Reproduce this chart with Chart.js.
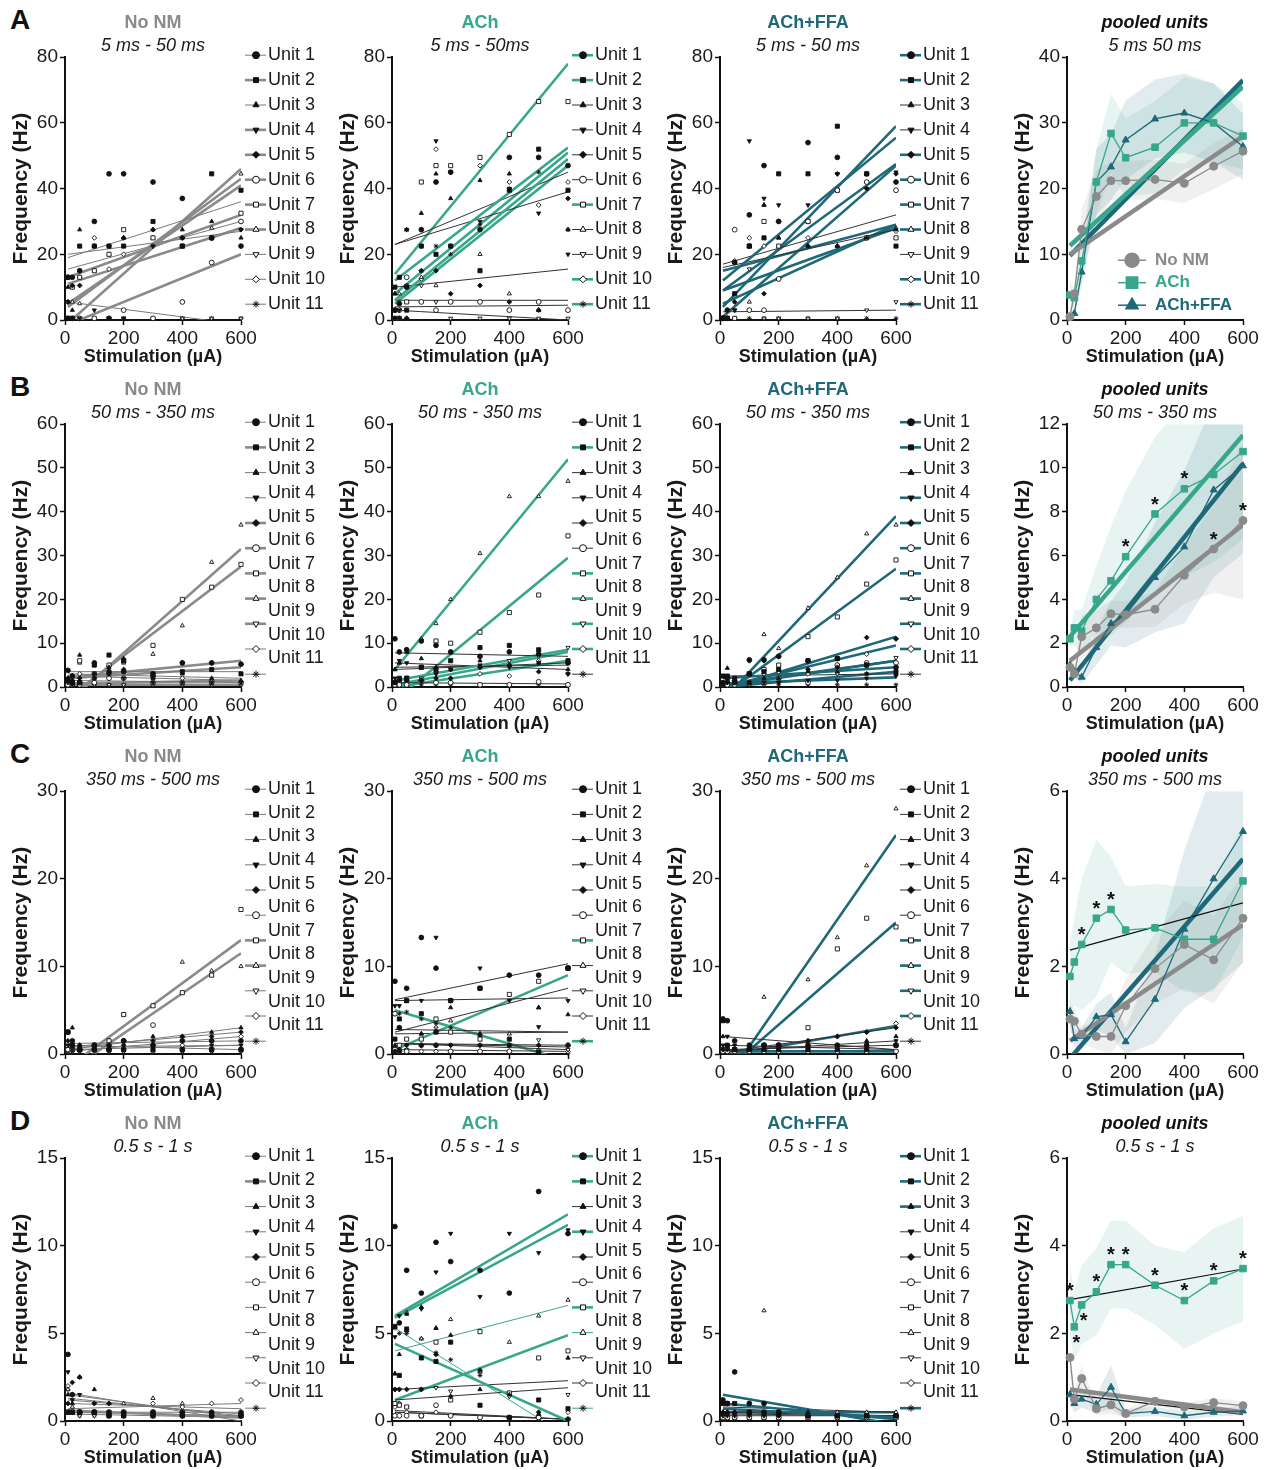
<!DOCTYPE html>
<html>
<head>
<meta charset="utf-8">
<script src="https://cdn.jsdelivr.net/npm/chart.js@4.4.1/dist/chart.umd.min.js"></script>
<style>
  body { margin: 0; background: #fff; width: 1268px; height: 1470px; position: relative; overflow: hidden;
         font-family: "Liberation Sans", Arial, sans-serif; }
  canvas { position: absolute; }
  .letter { position: absolute; font-weight: bold; font-size: 28px; color: #111; }
</style>
</head>
<body>
<div class="letter" style="left:10px;top:4px">A</div>
<div class="letter" style="left:10px;top:371px">B</div>
<div class="letter" style="left:10px;top:738px">C</div>
<div class="letter" style="left:10px;top:1105px">D</div>
<script>
// stimulation steps (µA) shared by every panel
const stimulation = [10, 25, 50, 100, 150, 200, 300, 400, 500, 600];
const xTicks = [0, 200, 400, 600];
const unitNames = ["Unit 1", "Unit 2", "Unit 3", "Unit 4", "Unit 5", "Unit 6",
  "Unit 7", "Unit 8", "Unit 9", "Unit 10", "Unit 11"];
const conditions = ["No NM", "ACh", "ACh+FFA"];
const windows = [
  ["5 ms - 50 ms", "5 ms - 50ms", "5 ms - 50 ms", "5 ms 50 ms"],
  ["50 ms - 350 ms", "50 ms - 350 ms", "50 ms - 350 ms", "50 ms - 350 ms"],
  ["350 ms - 500 ms", "350 ms - 500 ms", "350 ms - 500 ms", "350 ms - 500 ms"],
  ["0.5 s - 1 s", "0.5 s - 1 s", "0.5 s - 1 s", "0.5 s - 1 s"]
];
const unitYMax = [80, 60, 30, 15];
const unitYStep = [20, 10, 10, 5];
const poolYMax = [40, 12, 6, 6];
const poolYStep = [10, 2, 2, 2];

// per-unit frequencies (Hz); fits = [value at 10 µA, value at 600 µA, kind]
// kind: 1 thin neutral, 2 thick coloured, 3 thin coloured
const unitsA1 = [
  [13, 13, 15, 30, 44.5, 44.5, 42, 37, 25, 22.5],
  [0.5, 0.5, 22.5, 22.5, 22.5, 22.5, 30, 22.5, 44.5, 39.5],
  [10, 3, 27.5, 22.5, 0.5, 25, 27.5, 27.5, 30, 25],
  [0.5, 0.5, 0.5, 3, 0.5, 0.5, 22.5, 25, 25, 27.5],
  [5.5, 10.5, 10.5, 22.5, 22.5, 25, 27.5, 25, 25, 27.5],
  [0.5, 0.5, 0.5, 0.5, 0.5, 3, 0.5, 5.5, 17.5, 30],
  [13, 10, 13, 15, 20, 27.5, 25, 22.5, 25, 32.5],
  [5.5, 5.5, 5, 15, 20, 25, 25, 25, 28, 44.5],
  [5.5, 0.5, 0.5, 0.5, 0.5, 0.5, 0.5, 0.5, 0.5, 0.5],
  [13, 10, 13, 25, 15.5, 20, 22.5, 25, 25, 30],
  [0.5, 0.5, 0.5, 0.5, 0.5, 0.5, 0.5, 0.5, 0.5, 0.5]
];
const fitsA1 = [[19, 36, 1], [5, 41, 2], [20, 27, 1], [-1, 46, 2], [11, 28, 2], [-1.4, 20, 2],
  [13, 32, 2], [4, 43, 2], [5.5, -1.4, 1], [15.5, 30, 1], [null, null, 1]];

const unitsA2 = [
  [3, 5, 10, 27.5, 42, 45, 27.5, 49.5, 49.5, 47],
  [10, 13, 3, 22.5, 20, 22.5, 15, 39.5, 52, 39.5],
  [8, 5, 27.5, 32.5, 44.5, 37, 42.5, 44.5, 3, 27.5],
  [0.5, 3, 27.5, 22.5, 54.5, 45, 30, 40, 32.5, 20],
  [0.5, 0.5, 0.5, 15, 15, 8, 10.5, 5.5, 3, 37],
  [3, 3, 13, 5.5, 3, 5.5, 5.5, 3, 5.5, 3],
  [0.5, 0.5, 5.5, 42, 47, 47, 49.5, 56.5, 66.5, 66.5],
  [8, 8, 10.5, 13, 10.5, 5.5, 20, 8, 3, 3],
  [3, 3, 10.5, 10.5, 5.5, 0.5, 0.5, 0.5, 0.5, 0.5],
  [0.5, 0.5, 0.5, 12.5, 52, 22.5, 47, 42, 35, 42],
  [0.5, 0.5, 27.5, 15, 22.5, 20, 29, 40, 45, 27.5]
];
const fitsA2 = [[12, 52.5, 2], [6, 49, 2], [23, 45, 1], [23, 39, 1], [4, 4.5, 1], [6, 6, 1],
  [14, 78, 2], [10, 15.5, 1], [3, 0, 1], [8, 51, 2], [5, 47, 2]];

const unitsA3 = [
  [0.5, 0.5, 17.5, 32, 47, 30, 54, 49.5, 44.5, 42],
  [0.5, 0.5, 8, 22.5, 25, 44.5, 44.5, 59, 44.5, 22.5],
  [0.5, 3, 17.5, 22.5, 35, 25, 22.5, 22.5, 25, 27.5],
  [0.5, 3, 3, 54.5, 37, 35, 35, 44.5, 40, 45],
  [0.5, 0.5, 5.5, 22.5, 8, 30, 22.5, 44.5, 40, 44.5],
  [0.5, 3, 27.5, 3, 3, 12.5, 30, 39.5, 42, 39.5],
  [0.5, 0.5, 0.5, 22.5, 30, 22.5, 30, 39.5, 25, 25],
  [0.5, 0.5, 0.5, 5.5, 35, 25, 22.5, 22.5, 25, 28],
  [0.5, 0.5, 3, 15.5, 0.5, 0.5, 0.5, 0.5, 3, 5.5],
  [0.5, 3, 18, 25, 22.5, 12.5, 25, 22.5, 25, 27],
  [0.5, 0.5, 0.5, 0.5, 0.5, 0.5, 0.5, 0.5, 0.5, 0.5]
];
const fitsA3 = [[12, 55.5, 2], [4, 59, 2], [16, 27.5, 1], [17, 32, 1], [9, 47.5, 2], [1, 47, 2],
  [5, 29, 2], [9, 28, 2], [2.5, 3, 1], [15, 29, 2], [null, null, 2]];

const unitsB1 = [
  [3.8, 2.5, 1, 5.5, 3.5, 3.5, 2.5, 5.5, 5.5, 5.2],
  [1.5, 1, 1, 5, 7.3, 6, 3, 3.5, 4, 3],
  [2, 2.5, 7.3, 5, 4.5, 6.5, 2, 3, 2, 1.5],
  [1, 0.5, 1, 2, 3, 2, 1, 1, 1, 1],
  [2, 1.5, 2, 3, 3, 4, 3, 5.5, 5.5, 5.2],
  [0.5, 0.5, 0.5, 1, 2, 2, 1, 1, 1, 1],
  [1, 1, 6, 3, 5, 6, 9.5, 20, 22.8, 28],
  [1, 1, 5.5, 2, 3, 5.5, 7.5, 14, 28.5, 37],
  [0.5, 0.5, 0.5, 0.5, 0.5, 0.5, 0.5, 0.5, 0.5, 0.5],
  [1, 1, 3, 2, 4.8, 2, 2, 2, 1.5, 1.2],
  [0.5, 0.5, 0.5, 0.5, 0.5, 0.5, 0.5, 0.5, 0.5, 0.5]
];
const fitsB1 = [[3.5, 3.5, 1], [2, 4.5, 2], [3, 2, 1], [1.5, 1, 1], [2.2, 6, 2], [0.8, 1.5, 2],
  [-2.5, 27.5, 2], [-3.5, 31.5, 2], [0.5, 0.5, 2], [2.5, 1.5, 1], [null, null, 1]];

const unitsB2 = [
  [11, 8, 8.5, 10.5, 9.5, 8, 7, 8, 7.5, 5.5],
  [1, 2, 2, 4.5, 4, 6, 9, 9.5, 8.5, 6],
  [4, 5.5, 8, 6.5, 4.5, 4, 6, 5, 5.5, 4],
  [2, 6, 5.5, 4.5, 3, 4, 5, 4.5, 5.5, 3],
  [1, 1.5, 1.5, 1.5, 2, 2, 4.5, 5, 3.5, 3],
  [0.5, 0.5, 0.5, 1.5, 1, 1, 0.5, 0.5, 1.2, 0.5],
  [0.5, 1, 2, 4.5, 10.5, 10, 12.5, 17, 21, 34.5],
  [4, 5.5, 8.5, 11, 14.5, 20, 30.5, 43.5, 43.5, 47],
  [1, 1, 1, 2, 3, 4, 4.5, 6, 7, 9],
  [1, 1, 1, 1.5, 3.5, 1, 3, 2.5, 6, 5.5],
  [0.5, 0.5, 0.5, 0.5, 0.5, 0.5, 0.5, 0.5, 0.5, 0.5]
];
const fitsB2 = [[7.8, 7, 1], [1.5, 8.5, 2], [5.5, 4, 1], [4.5, 5, 1], [4, 5.5, 1], [1, 0.7, 1],
  [-3, 29.5, 2], [4, 52, 2], [0.5, 8, 2], [0, 6, 2], [null, null, 1]];

const unitsB3 = [
  [1, 2, 1, 6.2, 6.2, 7, 6, 6.5, 5, 4.5],
  [2.5, 2.5, 2, 3, 3.5, 4, 6, 6.5, 5, 3.5],
  [1, 4.3, 1.5, 1, 2, 2, 3.5, 3.5, 3, 3],
  [0.5, 1, 1, 1, 1, 1, 1.5, 1.5, 2, 2.5],
  [0.5, 1, 1.5, 6, 6, 7, 4, 4.5, 11.3, 11],
  [0.5, 0.5, 0.5, 1, 1, 2, 1, 5, 5.5, 5.5],
  [0.5, 1, 1, 3, 4, 5, 11.5, 16, 23.5, 29],
  [1, 1, 1.5, 3, 12, 8.8, 18, 25, 35, 37],
  [0.5, 0.5, 0.5, 0.5, 0.5, 1, 1, 3, 3, 6.7],
  [0.5, 0.5, 0.5, 1, 3, 3.5, 3, 5, 7.5, 11],
  [0.5, 0.5, 0.5, 0.5, 0.5, 0.5, 0.5, 0.5, 0.5, 0.5]
];
const fitsB3 = [[0.5, 6, 2], [2, 4.5, 2], [2.5, 3, 1], [0.8, 2.2, 2], [-0.5, 11.5, 2], [0.2, 6, 2],
  [-2, 27, 2], [-3, 39, 2], [0, 3.5, 2], [0, 9.5, 2], [null, null, 1]];

const unitsC1 = [
  [2.5, 1.5, 0.5, 1, 0.5, 1.5, 1, 1.5, 1.5, 1.5],
  [2.5, 1, 0.5, 0.5, 0.5, 0.5, 0.5, 0.5, 0.5, 0.5],
  [2.5, 3, 1, 0.5, 1, 1.5, 2, 2, 2.5, 3],
  [1, 0.5, 0.5, 0.5, 0.5, 0.5, 1, 0.5, 1, 1],
  [1.5, 1, 1, 1, 1, 1, 1.5, 2, 2, 2.5],
  [0.5, 0.5, 0.5, 0.5, 1, 1.5, 3.3, 0.5, 0.5, 0.5],
  [0.5, 0.5, 0.5, 1, 1.5, 4.5, 5.5, 7, 9, 16.5],
  [0.5, 0.5, 0.5, 0.5, 1.5, 4.5, 5.5, 10.5, 9.5, 10],
  [0.3, 0.3, 0.3, 0.3, 0.3, 0.3, 0.3, 0.3, 0.3, 0.3],
  [0.5, 0.5, 0.5, 0.5, 0.5, 0.5, 1, 1, 1.5, 2],
  [0.3, 0.3, 0.3, 0.3, 0.3, 0.3, 0.3, 0.3, 0.3, 0.3]
];
const fitsC1 = [[1.2, 1.5, 1], [1, 0.5, 1], [0.5, 3, 1], [0.5, 1, 1], [0.8, 2.5, 1], [0.8, 1, 1],
  [-1.5, 13, 2], [-2, 11.5, 2], [null, null, 1], [0.3, 2, 1], [null, null, 1]];

const unitsC2 = [
  [8.3, 3, 7.5, 13.3, 9.8, 6.1, 7.5, 9, 9, 9.8],
  [1.7, 4, 6.1, 4.6, 2.5, 6.1, 7.5, 1.7, 0.2, 9.8],
  [1, 0.5, 6, 2.3, 2.6, 5.3, 2.3, 1, 5.3, 4.5],
  [5.5, 5.5, 6.1, 6.1, 13.3, 6.1, 9.8, 6.1, 3.1, 6.1],
  [0.3, 0.3, 1, 1, 1, 1, 1, 1, 1, 1],
  [4.6, 0.3, 0.3, 1, 1, 0.3, 0.3, 0.3, 0.3, 1],
  [0.5, 1, 1.7, 1.7, 4, 2.5, 1.7, 6.8, 8.3, 9.8],
  [0.5, 0.5, 0.5, 2.3, 3.1, 3.8, 2.3, 2.3, 5.3, 1],
  [0.5, 0.5, 0.5, 1, 1, 1, 1, 1, 1.6, 0.5],
  [4.6, 0.3, 0.3, 0.3, 0.3, 0.3, 0.3, 0.3, 0.3, 0.3],
  [4.6, 4.6, 4.8, 4, 3.5, 3, 2, 1, 0.3, 0.1]
];
const fitsC2 = [[6.2, 10.3, 1], [2.8, 2.5, 1], [2.5, 7.5, 1], [6.1, 6.4, 1], [1.2, 1, 1], [1.2, 0.5, 1],
  [0.5, 9, 2], [2.3, 2.5, 1], [1.2, 0.8, 1], [0.5, 0.3, 1], [5, -0.8, 2]];

const unitsC3 = [
  [4, 3.8, 1.5, 1, 1, 1, 1, 1, 1, 1],
  [3.8, 1, 0.5, 0.5, 0.5, 0.5, 0.5, 0.5, 0.5, 1],
  [2, 1, 0.5, 0.5, 0.5, 1, 1, 1, 1.5, 2],
  [1, 2, 1, 0.5, 0.5, 0.5, 0.5, 1, 1, 1.5],
  [0.5, 0.5, 0.5, 0.5, 1, 1, 1.5, 2, 2.5, 3],
  [0.3, 0.3, 0.3, 0.3, 0.3, 0.3, 0.3, 0.3, 0.3, 0.3],
  [0.5, 0.5, 0.5, 0.5, 1, 1, 3, 12, 15.5, 14.5],
  [0.5, 0.5, 0.5, 0.5, 6.5, 1, 8.5, 13.3, 21.5, 28],
  [0.3, 0.3, 0.3, 0.3, 0.3, 0.3, 0.3, 0.3, 0.3, 0.3],
  [0.5, 0.5, 0.5, 0.5, 1, 1, 1.5, 2, 2.5, 3.5],
  [0.3, 0.3, 0.3, 0.3, 0.3, 0.3, 0.3, 0.3, 0.3, 0.3]
];
const fitsC3 = [[2, 0.5, 1], [1, 0.5, 1], [0.3, 1.5, 1], [0.5, 1, 1], [0.2, 3, 1], [null, null, 1],
  [-2.2, 15, 2], [-3.5, 25, 2], [0.3, 0.3, 2], [-0.2, 3.2, 2], [null, null, 1]];

const unitsD1 = [
  [3.8, 1.5, 0.5, 0.5, 0.3, 0.3, 0.3, 0.3, 0.3, 0.3],
  [0.5, 0.5, 0.5, 0.5, 0.3, 0.3, 0.3, 0.3, 0.3, 0.3],
  [1.5, 1, 2.5, 1.8, 0.5, 0.5, 0.5, 0.5, 0.3, 0.3],
  [2.8, 1.2, 1.5, 1, 0.5, 0.5, 0.5, 0.3, 0.5, 0.3],
  [1, 2.2, 2.5, 1, 1, 0.5, 0.5, 0.5, 0.5, 0.5],
  [0.5, 0.5, 0.5, 0.5, 0.5, 0.5, 0.5, 0.5, 0.5, 0.5],
  [0.5, 0.5, 0.5, 0.5, 0.5, 0.5, 0.5, 0.5, 0.3, 0.3],
  [1.8, 0.8, 0.5, 0.5, 1, 1, 1.3, 1, 0.5, 0.5],
  [0.5, 0.5, 0.3, 0.3, 0.3, 0.3, 0.3, 0.3, 0.3, 0.3],
  [2, 1.5, 0.5, 0.5, 0.5, 0.5, 1, 0.8, 1, 1.2],
  [1.8, 0.5, 0.3, 0.3, 0.3, 0.3, 0.3, 0.3, 0.3, 0.3]
];
const fitsD1 = [[1.6, 0, 1], [0.6, 0.2, 2], [1.3, 0.3, 1], [1.5, 0.2, 1], [1.2, 0.4, 1], [0.5, 0.5, 1],
  [0.5, 0.3, 1], [1, 0.7, 1], [0.4, 0.2, 1], [0.7, 1, 1], [null, null, 1]];

const unitsD2 = [
  [11.1, 5.6, 8.6, 7.3, 10.2, 9.1, 8.6, 7.3, 13.1, 10.7],
  [5.4, 2.6, 5.2, 3.6, 3.4, 4.5, 0.9, 0.2, 1.2, 0.7],
  [2.7, 3.8, 6.1, 6.5, 5.3, 4.9, 1.8, 1.5, 0.4, 3.6],
  [4.8, 6, 5.3, 6.4, 8.5, 10.7, 7.1, 10.7, 9.6, 10.9],
  [1.8, 1.8, 1.8, 1.8, 3.8, 1.4, 2.9, 0.2, 0.5, 0.1],
  [0.3, 0.3, 0.3, 0.3, 0.9, 0.3, 0.2, 0.2, 0.2, 0.1],
  [1, 0.9, 0.8, 0.3, 4.5, 1.2, 5.1, 1.6, 3.6, 4],
  [2.7, 1, 6.2, 4.7, 5.3, 5.8, 2.8, 4.5, 6, 6.9],
  [1.8, 1.8, 0.8, 1.8, 1.9, 1.7, 0.1, 1.4, 0.2, 1.5],
  [0.8, 1, 0.5, 0.3, 0.5, 0.3, 2.8, 0.2, 0.3, 0.5],
  [5.3, 5, 5, 4.7, 3.9, 3.5, 2.6, 1.6, 0.2, 0.1]
];
const fitsD2 = [[6, 11.8, 2], [4.4, 0, 2], [1.8, 2.3, 1], [5.9, 11.2, 2], [1.2, 1.9, 1], [0.5, 0.1, 1],
  [1.2, 4.9, 2], [4, 6.6, 3], [0.6, 0.1, 1], [0.5, 0.1, 1], [5.3, -0.9, 3]];

const unitsD3 = [
  [1.2, 1, 2.8, 1, 1, 0.5, 0.3, 0.3, 0.3, 0.3],
  [1, 1, 1, 0.5, 0.5, 0.5, 0.3, 0.3, 0.3, 0.3],
  [0.5, 0.5, 0.5, 0.5, 0.5, 0.5, 0.5, 0.3, 0.3, 0.3],
  [0.3, 0.3, 0.3, 0.3, 0.3, 0.3, 0.3, 0.3, 0.3, 0.3],
  [0.5, 0.5, 0.5, 0.5, 0.5, 0.3, 0.3, 0.3, 0.3, 0.3],
  [0.2, 0.2, 0.2, 0.2, 0.2, 0.2, 0.2, 0.2, 0.2, 0.2],
  [0.2, 0.2, 0.2, 0.2, 0.2, 0.2, 0.2, 0.2, 0.2, 0.2],
  [1, 0.5, 0.5, 0.5, 6.3, 0.5, 0.5, 0.5, 0.5, 0.5],
  [0.2, 0.2, 0.2, 0.2, 0.2, 0.2, 0.2, 0.2, 0.2, 0.2],
  [0.3, 0.3, 0.3, 0.3, 0.3, 0.3, 0.3, 0.3, 0.3, 0.3],
  [0.2, 0.2, 0.2, 0.2, 0.2, 0.2, 0.2, 0.2, 0.2, 0.2]
];
const fitsD3 = [[1.5, -0.2, 2], [1, 0.1, 2], [0.7, 0.2, 2], [0.3, 0.3, 1], [0.5, 0.3, 1], [null, null, 1],
  [null, null, 1], [0.8, 0.5, 1], [null, null, 1], [0.4, 0.3, 1], [0.5, 0.5, 2]];

// pooled means and spread (Hz), order: No NM, ACh, ACh+FFA
const poolANoNM = [0.5, 4, 13.8, 18.8, 21.2, 21.2, 21.4, 20.8, 23.4, 25.7];
const poolAAch = [3.8, 3.4, 9, 21, 28.4, 24.7, 26.3, 30, 30, 28];
const poolAFfa = [0.5, 1, 7.3, 21, 23.3, 27.4, 30.6, 31.5, 30, 26.4];
const semANoNM = [0.5, 1.5, 3, 4, 3, 3, 3, 3, 3.5, 3.5];
const semAAch = [2, 1.5, 3, 5, 6, 6, 7, 7, 6, 5];
const semAFfa = [0.5, 0.5, 2, 5, 5, 6, 6, 6, 6, 5];
const fitsPoolA = [[10, 28, 2], [11.3, 35.5, 2], [9.8, 36.5, 2]];

const poolBNoNM = [0.9, 0.6, 2.3, 2.7, 3.35, 3.3, 3.55, 5.1, 6.3, 7.6];
const poolBAch = [2.2, 2.7, 2.55, 4, 4.85, 5.95, 7.9, 9.05, 9.7, 10.75];
const poolBFfa = [1, 0.7, 0.45, 1.8, 2.9, 3.3, 5, 6.4, 9, 10.1];
const semBNoNM = [0.3, 0.3, 1, 0.8, 0.6, 0.6, 0.8, 1.3, 2, 3.6];
const semBAch = [0.3, 0.8, 1, 1.5, 2.5, 3, 3.5, 4, 4, 4];
const semBFfa = [0.3, 0.3, 0.3, 0.8, 1, 1.5, 2.5, 3.5, 4, 4];
const fitsPoolB = [[1.2, 7.4, 2], [2.3, 11.5, 2], [0.3, 10.2, 2]];

const poolCNoNM = [0.8, 0.75, 0.45, 0.4, 0.4, 1.1, 1.95, 2.5, 2.15, 3.1];
const poolCAch = [1.77, 2.1, 2.5, 3.1, 3.3, 2.83, 2.88, 2.62, 2.62, 3.95];
const poolCFfa = [0.97, 0.35, 0.4, 0.85, 0.9, 0.28, 1.25, 2.85, 4, 5.08];
const semCNoNM = [0.3, 0.3, 0.2, 0.3, 0.5, 0.6, 0.8, 1, 1, 1];
const semCAch = [0.8, 1, 1.5, 1.8, 1.2, 1, 1, 1.2, 1.2, 1.3];
const semCFfa = [0.3, 0.2, 0.2, 0.3, 0.5, 0.3, 1, 1.8, 2.5, 3];
const fitsPoolC = [[0.3, 2.95, 2], [2.37, 3.45, 1], [-0.1, 4.45, 2]];

const poolDNoNM = [1.45, 0.5, 0.97, 0.28, 0.37, 0.17, 0.45, 0.32, 0.42, 0.35];
const poolDAch = [2.75, 2.15, 2.65, 2.95, 3.57, 3.57, 3.1, 2.75, 3.2, 3.48];
const poolDFfa = [0.6, 0.4, 0.5, 0.38, 0.77, 0.17, 0.22, 0.12, 0.2, 0.23];
const semDNoNM = [0.3, 0.2, 0.3, 0.15, 0.2, 0.1, 0.1, 0.1, 0.1, 0.1];
const semDAch = [0.8, 0.8, 0.9, 1, 1, 1, 0.9, 1.1, 1.2, 1.2];
const semDFfa = [0.2, 0.2, 0.2, 0.2, 0.5, 0.1, 0.1, 0.1, 0.1, 0.1];
const fitsPoolD = [[0.72, 0.2, 2], [2.77, 3.47, 1], [0.6, 0.15, 1]];

// significance stars: [series, indices above, indices below]
const starsA = [];
const starsB = [[0, [8, 9], []], [1, [5, 6, 7], []]];
const starsC = [[1, [2, 3, 4], []]];
const starsD = [[1, [0, 3, 4, 5, 6, 7, 8, 9], [1, 2]]];

const unitSets = [[unitsA1, unitsA2, unitsA3], [unitsB1, unitsB2, unitsB3],
  [unitsC1, unitsC2, unitsC3], [unitsD1, unitsD2, unitsD3]];
const fitSets = [[fitsA1, fitsA2, fitsA3], [fitsB1, fitsB2, fitsB3],
  [fitsC1, fitsC2, fitsC3], [fitsD1, fitsD2, fitsD3]];
const poolMeans = [[poolANoNM, poolAAch, poolAFfa], [poolBNoNM, poolBAch, poolBFfa],
  [poolCNoNM, poolCAch, poolCFfa], [poolDNoNM, poolDAch, poolDFfa]];
const poolSems = [[semANoNM, semAAch, semAFfa], [semBNoNM, semBAch, semBFfa],
  [semCNoNM, semCAch, semCFfa], [semDNoNM, semDAch, semDFfa]];
const poolFits = [fitsPoolA, fitsPoolB, fitsPoolC, fitsPoolD];
const poolStars = [starsA, starsB, starsC, starsD];

// ---- styling ----
const FONT = "'Liberation Sans', Arial, sans-serif";
const INK = "#1a1a1a";
const condColors = ["#8a8a8a", "#37a78b", "#1e6878"];
const condBands = ["rgba(140,140,140,0.13)", "rgba(55,167,139,0.12)", "rgba(30,104,120,0.13)"];
const thinColors = ["#7a7a7a", "#333333", "#333333"];
const markerShapes = ["circle", "rect", "triangle", "triangle", "rectRot", "circle", "rect",
  "triangle", "triangle", "rectRot", "star"];
const markerTurn = [0, 0, 0, 180, 0, 0, 0, 0, 180, 0, 0];
const markerOpen = [false, false, false, false, false, true, true, true, true, true, false];
const poolShapes = ["circle", "rect", "triangle"];
const axisX = [65, 392, 720, 1067];
const topTick = [57, 424, 791, 1158];

Chart.defaults.font.family = FONT;
Chart.defaults.color = INK;

function drawMarker(ctx, shape, rot, r, x, y) {
  Chart.helpers.drawPoint(ctx, { pointStyle: shape, rotation: rot, radius: r, borderWidth: 1 }, x, y);
}

const unitLegend = {
  id: "unitLegend",
  afterDraw(chart, args, opts) {
    if (!opts.fits) return;
    const ctx = chart.ctx;
    const a = chart.chartArea;
    const x0 = a.left + 180;
    const y0 = a.top - 2;
    ctx.save();
    opts.fits.forEach((f, u) => {
      const my = y0 + u * opts.markStep;
      const ty = y0 + u * opts.textStep;
      ctx.beginPath();
      ctx.lineWidth = f[2] === 2 ? 2.6 : 1;
      ctx.strokeStyle = f[2] >= 2 ? opts.color : opts.thin;
      ctx.moveTo(x0, my);
      ctx.lineTo(x0 + 21, my);
      ctx.stroke();
      ctx.lineWidth = 1;
      ctx.fillStyle = markerOpen[u] ? "#fff" : "#111";
      ctx.strokeStyle = "#111";
      drawMarker(ctx, markerShapes[u], markerTurn[u], 3.5, x0 + 11, my);
      ctx.fillStyle = INK;
      ctx.font = "18px " + FONT;
      ctx.textAlign = "left";
      ctx.textBaseline = "middle";
      ctx.fillText(unitNames[u], x0 + 23, ty);
    });
    ctx.restore();
  }
};

const poolLegend = {
  id: "poolLegend",
  afterDraw(chart, args, opts) {
    if (!opts.show) return;
    const ctx = chart.ctx;
    const a = chart.chartArea;
    ctx.save();
    conditions.forEach((c, s) => {
      const y = a.top + 203 + s * 22.5;
      ctx.beginPath();
      ctx.lineWidth = 1.5;
      ctx.strokeStyle = condColors[s];
      ctx.moveTo(a.left + 51, y);
      ctx.lineTo(a.left + 79, y);
      ctx.stroke();
      ctx.fillStyle = condColors[s];
      drawMarker(ctx, poolShapes[s], 0, s === 1 ? 8 : 7, a.left + 65, y);
      ctx.font = "bold 17px " + FONT;
      ctx.textAlign = "left";
      ctx.textBaseline = "middle";
      ctx.fillText(c, a.left + 88, y);
    });
    ctx.restore();
  }
};

const starMarks = {
  id: "starMarks",
  afterDatasetsDraw(chart, args, opts) {
    if (!opts.items) return;
    const ctx = chart.ctx;
    ctx.save();
    ctx.font = "bold 20px " + FONT;
    ctx.fillStyle = "#111";
    ctx.textAlign = "center";
    ctx.textBaseline = "middle";
    opts.items.forEach(([s, above, below]) => {
      const pts = chart.getDatasetMeta(opts.firstSeries + s).data;
      above.forEach(i => ctx.fillText("*", pts[i].x, pts[i].y - 9));
      below.forEach(i => ctx.fillText("*", pts[i].x + 2, pts[i].y + 17));
    });
    ctx.restore();
  }
};

Chart.register(unitLegend, poolLegend, starMarks);

function scalesFor(yMax, yStep) {
  const grid = { drawOnChartArea: false, tickLength: 5, tickWidth: 1.5, color: "#111" };
  const border = { color: "#111", width: 2 };
  return {
    x: {
      type: "linear", min: 0, max: 600,
      afterBuildTicks: s => { s.ticks = xTicks.map(v => ({ value: v })); },
      ticks: { font: { size: 19 }, color: INK, padding: 2, maxRotation: 0 },
      grid, border,
      title: { display: true, text: "Stimulation (µA)", color: INK,
        font: { size: 18, weight: "bold" }, padding: { top: 0, bottom: 0 } },
      afterFit: s => { s.height = 48; }
    },
    y: {
      type: "linear", min: 0, max: yMax,
      ticks: { stepSize: yStep, font: { size: 19 }, color: INK, padding: 2 },
      grid, border,
      title: { display: true, text: "Frequency (Hz)", color: INK,
        font: { size: 21, weight: "bold" }, padding: { top: 9, bottom: 0 } },
      afterFit: s => { s.width = 65; }
    }
  };
}

function titles(text, color, italicTitle, sub) {
  return {
    title: { display: true, text, color, fullSize: false,
      font: { size: 18, weight: "bold", style: italicTitle ? "italic" : "normal" },
      padding: { top: 4, bottom: 2 } },
    subtitle: { display: true, text: sub, color: INK, fullSize: false,
      font: { size: 18, style: "italic" }, padding: { top: 0, bottom: 0 } }
  };
}

function addCanvas(left, top, w, h) {
  const c = document.createElement("canvas");
  c.width = w;
  c.height = h;
  c.style.left = left + "px";
  c.style.top = top + "px";
  document.body.appendChild(c);
  return c;
}

function unitPanel(row, cond) {
  const units = unitSets[row][cond];
  const fits = fitSets[row][cond];
  const datasets = [];
  fits.forEach(f => {
    if (f[0] === null) return;
    datasets.push({
      data: [{ x: stimulation[0], y: f[0] }, { x: 600, y: f[1] }],
      borderColor: f[2] >= 2 ? condColors[cond] : thinColors[cond],
      borderWidth: f[2] === 2 ? 2.6 : 1,
      pointRadius: 0, order: 2
    });
  });
  units.forEach((vals, u) => {
    datasets.push({
      data: stimulation.map((x, i) => ({ x, y: vals[i] })),
      showLine: false, clip: false, order: 1,
      pointStyle: markerShapes[u], pointRotation: markerTurn[u],
      pointRadius: markerShapes[u] === "rect" ? 2.9 : 2.4,
      pointBackgroundColor: markerOpen[u] ? "#fff" : "#111",
      pointBorderColor: "#111", pointBorderWidth: 0.9
    });
  });
  const canvas = addCanvas(axisX[cond] - 65, topTick[row] - 50, 330, 363);
  new Chart(canvas, {
    type: "line",
    data: { datasets },
    options: {
      responsive: false, animation: false, events: [],
      layout: { padding: { left: 0, right: 89, top: 1, bottom: 2 } },
      plugins: Object.assign({
        legend: { display: false }, tooltip: { enabled: false },
        unitLegend: { fits, color: condColors[cond], thin: thinColors[cond],
          textStep: row === 0 ? 24.9 : 23.6, markStep: row === 0 ? 24.9 : 25.2 }
      }, titles(conditions[cond], condColors[cond], false, windows[row][cond])),
      scales: scalesFor(unitYMax[row], unitYStep[row])
    }
  });
}

function pooledPanel(row) {
  const means = poolMeans[row];
  const sems = poolSems[row];
  const datasets = [];
  means.forEach((m, s) => {
    datasets.push({
      data: stimulation.map((x, i) => ({ x, y: m[i] + sems[s][i] })),
      fill: "+1", backgroundColor: condBands[s], borderWidth: 0, pointRadius: 0, order: 5
    });
    datasets.push({
      data: stimulation.map((x, i) => ({ x, y: Math.max(0, m[i] - sems[s][i]) })),
      fill: false, borderWidth: 0, pointRadius: 0, order: 5
    });
  });
  poolFits[row].forEach((f, s) => {
    datasets.push({
      data: [{ x: stimulation[0], y: f[0] }, { x: 600, y: f[1] }],
      borderColor: f[2] === 2 ? condColors[s] : "#111",
      borderWidth: f[2] === 2 ? 4.5 : 1.2,
      pointRadius: 0, order: 3
    });
  });
  means.forEach((m, s) => {
    datasets.push({
      data: stimulation.map((x, i) => ({ x, y: m[i] })),
      borderColor: condColors[s], borderWidth: 1.3, clip: false, order: 1,
      pointStyle: poolShapes[s], pointRadius: s === 1 ? 4.6 : 4,
      pointBackgroundColor: condColors[s], pointBorderColor: condColors[s], pointBorderWidth: 1
    });
  });
  const canvas = addCanvas(axisX[3] - 65, topTick[row] - 50, 266, 363);
  new Chart(canvas, {
    type: "line",
    data: { datasets },
    options: {
      responsive: false, animation: false, events: [],
      layout: { padding: { left: 0, right: 25, top: 1, bottom: 2 } },
      plugins: Object.assign({
        legend: { display: false }, tooltip: { enabled: false },
        poolLegend: { show: row === 0 },
        starMarks: { items: poolStars[row], firstSeries: 9 }
      }, titles("pooled units", "#111", true, windows[row][3])),
      scales: scalesFor(poolYMax[row], poolYStep[row])
    }
  });
}

for (let row = 0; row < 4; row++) {
  for (let cond = 0; cond < 3; cond++) unitPanel(row, cond);
  pooledPanel(row);
}
</script>
</body>
</html>
